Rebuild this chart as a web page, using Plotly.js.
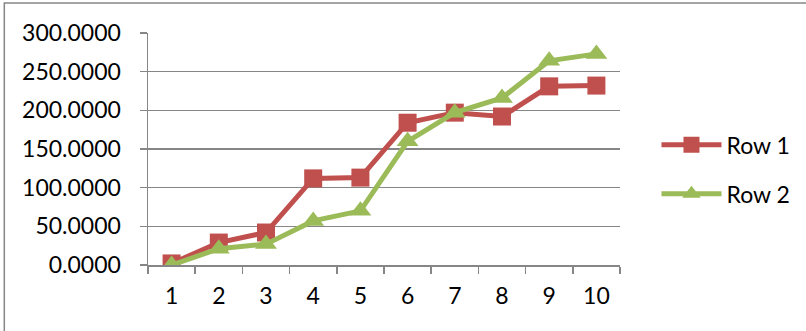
<!DOCTYPE html>
<html>
<head>
<meta charset="utf-8">
<script src="https://cdn.plot.ly/plotly-3.0.1.min.js"></script>
<style>html,body{margin:0;padding:0;background:#fff;}#chart{width:806px;height:331px;}</style>
</head>
<body>
<div id="chart"></div>
<script>
var categories = ["1","2","3","4","5","6","7","8","9","10"];
var row1 = [2, 29, 42, 112, 113, 184, 197, 192, 231, 232];
var row2 = [0, 21, 27, 57, 70, 160, 197, 216, 264, 273];
var seriesNames = ["Row 1", "Row 2"];
var yTicks = [0, 50, 100, 150, 200, 250, 300];

var W = 806, H = 331, L = 148, R = 185, T = 33, B = 66;
var pw = W - L - R, ph = H - T - B;

var traces = [
  {x: categories, y: row1, name: seriesNames[0], type: 'scatter', mode: 'lines+markers',
   line: {color: '#C0504D', width: 5}, marker: {symbol: 'square', size: 18, color: '#C0504D'},
   legendgroup: 'a'},
  {x: categories, y: row2, name: seriesNames[1], type: 'scatter', mode: 'lines+markers',
   line: {color: '#9BBB59', width: 5}, marker: {symbol: 'triangle-up', size: 19, color: '#9BBB59'},
   legendgroup: 'b'}
];

var layout = {
  width: W, height: H,
  margin: {l: L, r: R, t: T, b: B, pad: 0},
  paper_bgcolor: '#fff', plot_bgcolor: '#fff',
  font: {family: 'Lato, Carlito, sans-serif', size: 23, color: '#000'},
  showlegend: true,
  legend: {x: 1.075, xanchor: 'left', y: 0.412, yanchor: 'middle', traceorder: 'grouped',
           tracegroupgap: 16, font: {size: 23}, itemwidth: 60, bgcolor: 'rgba(0,0,0,0)'},
  xaxis: {type: 'category', tickson: 'boundaries', ticks: 'outside', ticklen: 7, tickcolor: '#868686',
          tickwidth: 1.5, showgrid: false, showline: true, linecolor: '#868686', linewidth: 1.5,
          zeroline: false, range: [-0.5, 9.5], fixedrange: true, ticklabelstandoff: 10},
  yaxis: {range: [0, 300], tickvals: yTicks, tickformat: '.4f', ticks: 'outside', ticklen: 7,
          tickcolor: '#868686', tickwidth: 1.5, showgrid: true, gridcolor: '#868686', gridwidth: 1.5,
          showline: true, linecolor: '#868686', linewidth: 1.5, zeroline: false, ticklabelstandoff: 14},
  shapes: [{type: 'rect', xref: 'paper', yref: 'paper',
            x0: (4 - L) / pw, x1: (W + 20 - L) / pw, y0: -(H + 20 - (T + ph)) / ph, y1: (H - B - 3) / ph,
            line: {color: '#868686', width: 1.5}, fillcolor: 'rgba(0,0,0,0)', layer: 'below'}]
};

Plotly.newPlot('chart', traces, layout, {displayModeBar: false, staticPlot: true});
</script>
</body>
</html>
